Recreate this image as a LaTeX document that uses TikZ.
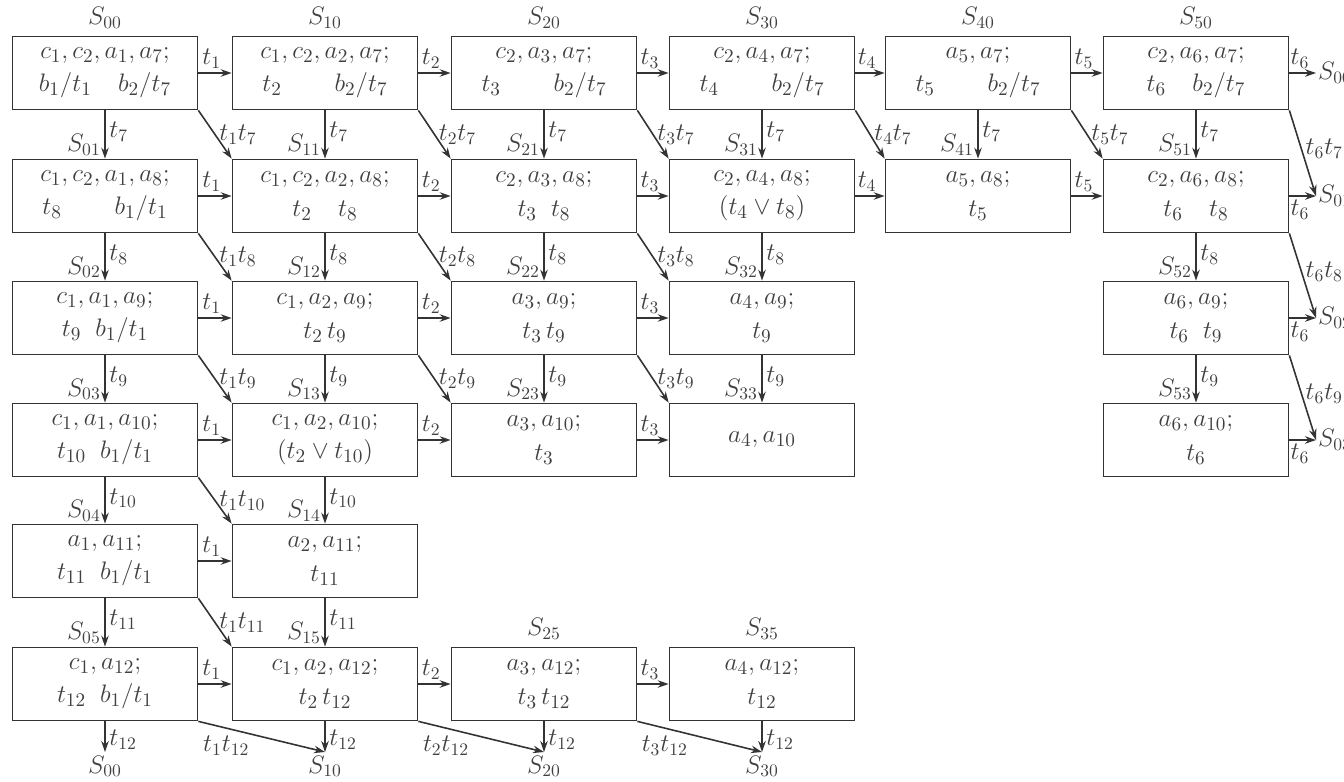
\documentclass[tikz,border=0pt]{standalone}
\usepackage{amsmath,amssymb}
\usepackage{tikz}
\usetikzlibrary{arrows.meta,positioning}

\begin{document}
\begin{tikzpicture}[x=.02cm,y=-.02cm,>={Stealth[length=2.2mm,width=1.5mm]},
  box/.style={draw=black!80,line width=1pt,minimum width=3.7cm,minimum height=1.46cm,align=center,text=black!75,font=\fontsize{15}{19}\selectfont},
  lab/.style={text=black!75,font=\fontsize{14}{16}\selectfont,inner sep=2pt},
  ar/.style={->,draw=black!80,line width=.9pt}]
\useasboundingbox (0,0) rectangle (1344,781);
\node[box] (s00) at (105,73) {$c_1,c_2,a_1,a_7;$\\$b_1/t_1\quad b_2/t_7$};
\node[box] (s10) at (325,73) {$c_1,c_2,a_2,a_7;$\\$t_2\qquad b_2/t_7$};
\node[box] (s20) at (544,73) {$c_2,a_3,a_7;$\\$t_3\qquad b_2/t_7$};
\node[box] (s30) at (762,73) {$c_2,a_4,a_7;$\\$t_4\qquad b_2/t_7$};
\node[box] (s40) at (978,73) {$a_5,a_7;$\\$t_5\qquad b_2/t_7$};
\node[box] (s50) at (1196,73) {$c_2,a_6,a_7;$\\$t_6\quad b_2/t_7$};
\node[box] (s01) at (105,196) {$c_1,c_2,a_1,a_8;$\\$t_8\qquad b_1/t_1$};
\node[box] (s11) at (325,196) {$c_1,c_2,a_2,a_8;$\\$t_2\quad t_8$};
\node[box] (s21) at (544,196) {$c_2,a_3,a_8;$\\$t_3\;\; t_8$};
\node[box] (s31) at (762,196) {$c_2,a_4,a_8;$\\$(t_4\vee t_8)$};
\node[box] (s41) at (978,196) {$a_5,a_8;$\\$t_5$};
\node[box] (s51) at (1196,196) {$c_2,a_6,a_8;$\\$t_6\quad t_8$};
\node[box] (s02) at (105,318) {$c_1,a_1,a_9;$\\$t_9\;\; b_1/t_1$};
\node[box] (s12) at (325,318) {$c_1,a_2,a_9;$\\$t_2\,t_9$};
\node[box] (s22) at (544,318) {$a_3,a_9;$\\$t_3\,t_9$};
\node[box] (s32) at (762,318) {$a_4,a_9;$\\$t_9$};
\node[box] (s52) at (1196,318) {$a_6,a_9;$\\$t_6\;\; t_9$};
\node[box] (s03) at (105,440) {$c_1,a_1,a_{10};$\\$t_{10}\;\; b_1/t_1$};
\node[box] (s13) at (325,440) {$c_1,a_2,a_{10};$\\$(t_2\vee t_{10})$};
\node[box] (s23) at (544,440) {$a_3,a_{10};$\\$t_3$};
\node[box] (s33) at (762,440) {$a_4,a_{10}$};
\node[box] (s53) at (1196,440) {$a_6,a_{10};$\\$t_6$};
\node[box] (s04) at (105,561) {$a_1,a_{11};$\\$t_{11}\;\; b_1/t_1$};
\node[box] (s14) at (325,561) {$a_2,a_{11};$\\$t_{11}$};
\node[box] (s05) at (105,684) {$c_1,a_{12};$\\$t_{12}\;\; b_1/t_1$};
\node[box] (s15) at (325,684) {$c_1,a_2,a_{12};$\\$t_2\,t_{12}$};
\node[box] (s25) at (544,684) {$a_3,a_{12};$\\$t_3\,t_{12}$};
\node[box] (s35) at (762,684) {$a_4,a_{12};$\\$t_{12}$};

\node[lab,above=2pt of s00] (l00) {$S_{00}$}; \node[lab,above=2pt of s10] (l10) {$S_{10}$};
\node[lab,above=2pt of s20] (l20) {$S_{20}$}; \node[lab,above=2pt of s30] (l30) {$S_{30}$};
\node[lab,above=2pt of s40] (l40) {$S_{40}$}; \node[lab,above=2pt of s50] (l50) {$S_{50}$};
\node[lab,above=2pt of s25] (l25) {$S_{25}$}; \node[lab,above=2pt of s35] (l35) {$S_{35}$};

\coordinate (o0) at (1316,73); \coordinate (o1) at (1316,196); \coordinate (o2) at (1316,318); \coordinate (o3) at (1316,440);
\coordinate (b0) at (105,752); \coordinate (b1) at (325,752); \coordinate (b2) at (544,752); \coordinate (b3) at (762,752);
\node[lab,right,inner sep=1pt] (lo0) at (o0) {$S_{00}$}; \node[lab,right,inner sep=1pt] (lo1) at (o1) {$S_{01}$};
\node[lab,right,inner sep=1pt] (lo2) at (o2) {$S_{02}$}; \node[lab,right,inner sep=1pt] (lo3) at (o3) {$S_{03}$};
\node[lab,below] (lb0) at (b0) {$S_{00}$}; \node[lab,below] (lb1) at (b1) {$S_{10}$};
\node[lab,below] (lb2) at (b2) {$S_{20}$}; \node[lab,below] (lb3) at (b3) {$S_{30}$};

\draw[ar] (s00) -- node[lab,above,pos=.4] {$t_1$} (s10); \draw[ar] (s10) -- node[lab,above,pos=.4] {$t_2$} (s20);
\draw[ar] (s20) -- node[lab,above,pos=.4] {$t_3$} (s30); \draw[ar] (s30) -- node[lab,above,pos=.4] {$t_4$} (s40);
\draw[ar] (s40) -- node[lab,above,pos=.4] {$t_5$} (s50); \draw[ar] (s50) -- node[lab,above,pos=.4] {$t_6$} (o0);
\draw[ar] (s01) -- node[lab,above,pos=.4] {$t_1$} (s11); \draw[ar] (s11) -- node[lab,above,pos=.4] {$t_2$} (s21);
\draw[ar] (s21) -- node[lab,above,pos=.4] {$t_3$} (s31); \draw[ar] (s31) -- node[lab,above,pos=.4] {$t_4$} (s41);
\draw[ar] (s41) -- node[lab,above,pos=.4] {$t_5$} (s51); \draw[ar] (s51) -- node[lab,below,pos=.4] {$t_6$} (o1);
\draw[ar] (s02) -- node[lab,above,pos=.4] {$t_1$} (s12); \draw[ar] (s12) -- node[lab,above,pos=.4] {$t_2$} (s22);
\draw[ar] (s22) -- node[lab,above,pos=.4] {$t_3$} (s32); \draw[ar] (s52) -- node[lab,below,pos=.4] {$t_6$} (o2);
\draw[ar] (s03) -- node[lab,above,pos=.4] {$t_1$} (s13); \draw[ar] (s13) -- node[lab,above,pos=.4] {$t_2$} (s23);
\draw[ar] (s23) -- node[lab,above,pos=.4] {$t_3$} (s33); \draw[ar] (s53) -- node[lab,below,pos=.4] {$t_6$} (o3);
\draw[ar] (s04) -- node[lab,above,pos=.4] {$t_1$} (s14);
\draw[ar] (s05) -- node[lab,above,pos=.4] {$t_1$} (s15); \draw[ar] (s15) -- node[lab,above,pos=.4] {$t_2$} (s25);
\draw[ar] (s25) -- node[lab,above,pos=.4] {$t_3$} (s35);

\draw[ar] (s00.south east) -- node[lab,right] {$t_1t_7$} (s11.north west); \draw[ar] (s10.south east) -- node[lab,right] {$t_2t_7$} (s21.north west);
\draw[ar] (s20.south east) -- node[lab,right] {$t_3t_7$} (s31.north west); \draw[ar] (s30.south east) -- node[lab,right] {$t_4t_7$} (s41.north west);
\draw[ar] (s40.south east) -- node[lab,right] {$t_5t_7$} (s51.north west); \draw[ar] (s50.south east) -- node[lab,right,pos=.45] {$t_6t_7$} (o1);
\draw[ar] (s01.south east) -- node[lab,right] {$t_1t_8$} (s12.north west); \draw[ar] (s11.south east) -- node[lab,right] {$t_2t_8$} (s22.north west);
\draw[ar] (s21.south east) -- node[lab,right] {$t_3t_8$} (s32.north west); \draw[ar] (s51.south east) -- node[lab,right,pos=.45] {$t_6t_8$} (o2);
\draw[ar] (s02.south east) -- node[lab,right] {$t_1t_9$} (s13.north west); \draw[ar] (s12.south east) -- node[lab,right] {$t_2t_9$} (s23.north west);
\draw[ar] (s22.south east) -- node[lab,right] {$t_3t_9$} (s33.north west); \draw[ar] (s52.south east) -- node[lab,right,pos=.45] {$t_6t_9$} (o3);
\draw[ar] (s03.south east) -- node[lab,right] {$t_1t_{10}$} (s14.north west);
\draw[ar] (s04.south east) -- node[lab,right] {$t_1t_{11}$} (s15.north west);
\draw[ar] (s05.south east) -- node[lab,below=2pt,pos=.22] {$t_1t_{12}$} (b1); \draw[ar] (s15.south east) -- node[lab,below=2pt,pos=.22] {$t_2t_{12}$} (b2);
\draw[ar] (s25.south east) -- node[lab,below=2pt,pos=.22] {$t_3t_{12}$} (b3);

\draw[ar] (s00) -- node[lab,right,pos=.45] {$t_7$} node[lab,left,pos=.72] {$S_{01}$} (s01);
\draw[ar] (s01) -- node[lab,right,pos=.45] {$t_8$} node[lab,left,pos=.72] {$S_{02}$} (s02);
\draw[ar] (s02) -- node[lab,right,pos=.45] {$t_9$} node[lab,left,pos=.72] {$S_{03}$} (s03);
\draw[ar] (s03) -- node[lab,right,pos=.45] {$t_{10}$} node[lab,left,pos=.72] {$S_{04}$} (s04);
\draw[ar] (s04) -- node[lab,right,pos=.45] {$t_{11}$} node[lab,left,pos=.72] {$S_{05}$} (s05);
\draw[ar] (s05) -- node[lab,right,pos=.6] {$t_{12}$} (b0);
\draw[ar] (s10) -- node[lab,right,pos=.45] {$t_7$} node[lab,left,pos=.72] {$S_{11}$} (s11);
\draw[ar] (s11) -- node[lab,right,pos=.45] {$t_8$} node[lab,left,pos=.72] {$S_{12}$} (s12);
\draw[ar] (s12) -- node[lab,right,pos=.45] {$t_9$} node[lab,left,pos=.72] {$S_{13}$} (s13);
\draw[ar] (s13) -- node[lab,right,pos=.45] {$t_{10}$} node[lab,left,pos=.72] {$S_{14}$} (s14);
\draw[ar] (s14) -- node[lab,right,pos=.45] {$t_{11}$} node[lab,left,pos=.72] {$S_{15}$} (s15);
\draw[ar] (s15) -- node[lab,right,pos=.6] {$t_{12}$} (b1);
\draw[ar] (s20) -- node[lab,right,pos=.45] {$t_7$} node[lab,left,pos=.72] {$S_{21}$} (s21);
\draw[ar] (s21) -- node[lab,right,pos=.45] {$t_8$} node[lab,left,pos=.72] {$S_{22}$} (s22);
\draw[ar] (s22) -- node[lab,right,pos=.45] {$t_9$} node[lab,left,pos=.72] {$S_{23}$} (s23);
\draw[ar] (s25) -- node[lab,right,pos=.6] {$t_{12}$} (b2);
\draw[ar] (s30) -- node[lab,right,pos=.45] {$t_7$} node[lab,left,pos=.72] {$S_{31}$} (s31);
\draw[ar] (s31) -- node[lab,right,pos=.45] {$t_8$} node[lab,left,pos=.72] {$S_{32}$} (s32);
\draw[ar] (s32) -- node[lab,right,pos=.45] {$t_9$} node[lab,left,pos=.72] {$S_{33}$} (s33);
\draw[ar] (s35) -- node[lab,right,pos=.6] {$t_{12}$} (b3);
\draw[ar] (s40) -- node[lab,right,pos=.45] {$t_7$} node[lab,left,pos=.72] {$S_{41}$} (s41);
\draw[ar] (s50) -- node[lab,right,pos=.45] {$t_7$} node[lab,left,pos=.72] {$S_{51}$} (s51);
\draw[ar] (s51) -- node[lab,right,pos=.45] {$t_8$} node[lab,left,pos=.72] {$S_{52}$} (s52);
\draw[ar] (s52) -- node[lab,right,pos=.45] {$t_9$} node[lab,left,pos=.72] {$S_{53}$} (s53);
\end{tikzpicture}
\end{document}
